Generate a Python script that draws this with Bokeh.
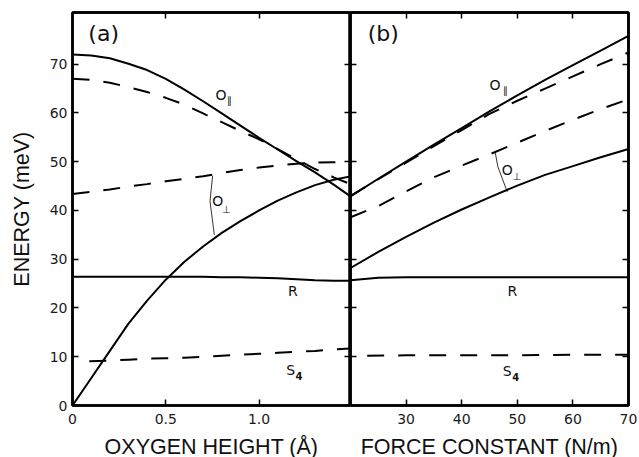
from bokeh.plotting import figure
from bokeh.layouts import row
from bokeh.models import LinearAxis, FixedTicker
from bokeh.core.properties import value
from bokeh.embed import file_html
from bokeh.resources import INLINE

# ---------------- data: panel (a), oxygen height (Å) ----------------
height_x = [0.0, 0.1, 0.2, 0.3, 0.4, 0.5, 0.6, 0.7, 0.8, 0.9, 1.0, 1.1, 1.2, 1.3, 1.4, 1.49]
o_par_solid_a = [72.0, 71.8, 71.2, 70.1, 68.8, 67.0, 64.8, 62.4, 59.9, 57.4, 54.9, 52.5, 50.1, 47.8, 45.3, 42.9]
o_par_dash_a = [67.0, 66.8, 66.2, 65.3, 64.3, 63.1, 61.7, 59.9, 58.1, 56.3, 54.6, 52.6, 50.5, 48.5, 46.8, 45.4]
o_perp_dash_a = [43.4, 43.8, 44.3, 44.9, 45.4, 46.0, 46.5, 47.0, 47.7, 48.3, 48.8, 49.2, 49.6, 49.8, 49.9, 49.9]
o_perp_solid_a = [0.0, 5.6, 11.2, 16.8, 21.5, 25.8, 29.5, 32.6, 35.4, 37.8, 40.0, 42.0, 43.7, 45.2, 46.3, 47.0]
r_solid_a = [26.4, 26.4, 26.4, 26.4, 26.4, 26.4, 26.4, 26.4, 26.3, 26.3, 26.2, 26.1, 25.9, 25.7, 25.6, 25.6]
s4_x_a = [0.09, 0.2, 0.3, 0.4, 0.5, 0.6, 0.7, 0.8, 0.9, 1.0, 1.1, 1.2, 1.3, 1.4, 1.49]
s4_dash_a = [9.1, 9.2, 9.4, 9.6, 9.7, 9.8, 10.0, 10.2, 10.4, 10.6, 10.8, 11.0, 11.2, 11.5, 11.7]

# ---------------- data: panel (b), force constant (N/m) ----------------
force_x = [20, 25, 30, 35, 40, 45, 50, 55, 60, 65, 70]
o_par_solid_b = [42.9, 46.5, 50.0, 53.5, 56.9, 60.3, 63.6, 66.8, 69.8, 72.8, 75.8]
o_par_dash_b = [43.0, 46.4, 49.8, 53.2, 56.5, 59.8, 62.5, 65.0, 67.5, 70.0, 72.4]
o_perp_dash_b = [38.6, 40.9, 43.9, 46.8, 49.2, 51.5, 53.9, 56.3, 58.6, 60.8, 62.8]
o_perp_solid_b = [28.2, 31.5, 34.6, 37.5, 40.2, 42.7, 45.1, 47.3, 49.1, 50.9, 52.6]
r_solid_b = [25.7, 26.2, 26.3, 26.3, 26.3, 26.3, 26.3, 26.3, 26.3, 26.3, 26.3]
s4_x_b = [23, 30, 40, 50, 60, 70]
s4_dash_b = [10.2, 10.3, 10.3, 10.3, 10.4, 10.4]

# ticks
y_ticks = [0, 10, 20, 30, 40, 50, 60, 70]
x_ticks_a = [0, 0.5, 1.0]
x_tick_labels_a = {0: "0", 0.5: "0.5", 1: "1.0"}
x_ticks_b = [30, 40, 50, 60, 70]

# axis titles
y_title = "ENERGY (meV)"
x_title_a = "OXYGEN HEIGHT (Å)"
x_title_b = "FORCE CONSTANT (N/m)"

# annotation texts and anchor points
panel_tags = ["(a)", "(b)"]
tag_a_pos = (0.167, 76.3)
tag_b_pos = (25.9, 76.3)
labels_a = {"O": [(0.796, 63.7), (0.778, 41.9)], "R": (1.181, 23.4), "S": (1.17, 7.3)}
subs_a = [("\u2225", 0.842, 62.6), ("\u22a5", 0.825, 40.1), ("4", 1.214, 6.0)]
labels_b = {"O": [(46.0, 65.8), (48.2, 48.4)], "R": (49.1, 23.4), "S": (48.2, 7.0)}
subs_b = [("\u2225", 47.9, 64.7), ("\u22a5", 49.9, 47.0), ("4", 49.7, 5.8)]
leader_a_x = [0.751, 0.737, 0.760]
leader_a_y = [47.1, 41.9, 35.0]
leader_b_x = [46.0, 46.5, 48.2]
leader_b_y = [52.1, 49.0, 43.8]

Y_MAX = 80.6
TICK_FONT = "DejaVu Sans"
LABEL_FONT = "Liberation Sans"
DASH = "17 14"
LW = 2.0


def style_axis(ax, ticks, show_labels=True, overrides=None):
    ax.ticker = FixedTicker(ticks=ticks)
    ax.axis_line_color = "black"
    ax.axis_line_width = 2.5
    ax.major_tick_in = 6
    ax.major_tick_out = 0
    ax.major_tick_line_width = 1.5
    ax.major_tick_line_color = "black"
    ax.minor_tick_in = 0
    ax.minor_tick_out = 0
    ax.minor_tick_line_color = None
    ax.major_label_text_font = TICK_FONT
    if overrides:
        ax.major_label_overrides = overrides
    if show_labels:
        ax.major_label_text_font_size = "14px"
        ax.major_label_text_color = "#1a1a1a"
    else:
        ax.major_label_text_font_size = "1px"
        ax.major_label_text_color = None
        ax.major_label_standoff = 0


def style_title(ax, standoff):
    ax.axis_label_text_font = LABEL_FONT
    ax.axis_label_text_font_size = "21.5px"
    ax.axis_label_text_font_style = "normal"
    ax.axis_label_text_color = "#111111"
    ax.axis_label_standoff = standoff


def base_fig(x_range, border_left, border_right, xlabel):
    p = figure(frame_width=278, frame_height=393, x_range=x_range, y_range=(0, Y_MAX),
               toolbar_location=None, output_backend="svg",
               min_border_left=border_left, min_border_right=border_right,
               min_border_top=12, min_border_bottom=52, x_axis_label=xlabel)
    p.xgrid.visible = False
    p.ygrid.visible = False
    p.outline_line_color = "black"
    p.outline_line_width = 2.5
    p.background_fill_color = "white"
    p.border_fill_color = "white"
    style_title(p.xaxis[0], 8)
    p.xaxis.major_label_standoff = 8
    return p


def add_text(p, x, y, t, size, font=TICK_FONT, style="normal"):
    p.text(x=[x], y=[y], text=[t], text_font=value(font), text_font_size=value(size),
           text_font_style=style, text_align="center", text_baseline="middle", text_color="#111111")


# ---------------- panel (a) ----------------
p1 = base_fig((0, 1.49), 72, 0, x_title_a)
p1.yaxis.axis_label = y_title
style_title(p1.yaxis[0], 13)
p1.yaxis.major_label_standoff = 5
style_axis(p1.xaxis[0], x_ticks_a, True, x_tick_labels_a)
style_axis(p1.yaxis[0], y_ticks, True)
ax_r1 = LinearAxis()
style_axis(ax_r1, y_ticks, False)
p1.add_layout(ax_r1, "right")
ax_t1 = LinearAxis()
style_axis(ax_t1, [0.5, 1.0], False)
p1.add_layout(ax_t1, "above")

p1.line(height_x, o_par_solid_a, line_color="black", line_width=LW)
p1.line(height_x, o_par_dash_a, line_color="black", line_width=LW, line_dash=DASH)
p1.line(height_x, o_perp_dash_a, line_color="black", line_width=LW, line_dash=DASH)
p1.line(height_x, o_perp_solid_a, line_color="black", line_width=LW)
p1.line(height_x, r_solid_a, line_color="black", line_width=LW)
p1.line(s4_x_a, s4_dash_a, line_color="black", line_width=LW, line_dash=DASH)
p1.line(leader_a_x, leader_a_y, line_color="black", line_width=0.8)

add_text(p1, tag_a_pos[0], tag_a_pos[1], panel_tags[0], "22px")
for (x, y) in labels_a["O"]:
    add_text(p1, x, y, "O", "14px")
add_text(p1, labels_a["R"][0], labels_a["R"][1], "R", "14px")
add_text(p1, labels_a["S"][0], labels_a["S"][1], "S", "14px")
for t, x, y in subs_a:
    add_text(p1, x, y, t, "10px", style="bold" if t == "4" else "normal")

# ---------------- panel (b) ----------------
p2 = base_fig((20, 70), 0, 11, x_title_b)
style_axis(p2.xaxis[0], x_ticks_b, True)
p2.yaxis.visible = False
ax_l2 = LinearAxis()
style_axis(ax_l2, y_ticks, False)
p2.add_layout(ax_l2, "left")
ax_r2 = LinearAxis()
style_axis(ax_r2, y_ticks, False)
p2.add_layout(ax_r2, "right")
ax_t2 = LinearAxis()
style_axis(ax_t2, [30, 40, 50, 60], False)
p2.add_layout(ax_t2, "above")

p2.line(force_x, o_par_solid_b, line_color="black", line_width=LW)
p2.line(force_x, o_par_dash_b, line_color="black", line_width=LW, line_dash=DASH)
p2.line(force_x, o_perp_dash_b, line_color="black", line_width=LW, line_dash=DASH)
p2.line(force_x, o_perp_solid_b, line_color="black", line_width=LW)
p2.line(force_x, r_solid_b, line_color="black", line_width=LW)
p2.line(s4_x_b, s4_dash_b, line_color="black", line_width=LW, line_dash=DASH)
p2.line(leader_b_x, leader_b_y, line_color="black", line_width=0.8)

add_text(p2, tag_b_pos[0], tag_b_pos[1], panel_tags[1], "22px")
for (x, y) in labels_b["O"]:
    add_text(p2, x, y, "O", "14px")
add_text(p2, labels_b["R"][0], labels_b["R"][1], "R", "14px")
add_text(p2, labels_b["S"][0], labels_b["S"][1], "S", "14px")
for t, x, y in subs_b:
    add_text(p2, x, y, t, "10px", style="bold" if t == "4" else "normal")

layout = row(p1, p2)
open("out.html", "w").write(file_html(layout, INLINE))
